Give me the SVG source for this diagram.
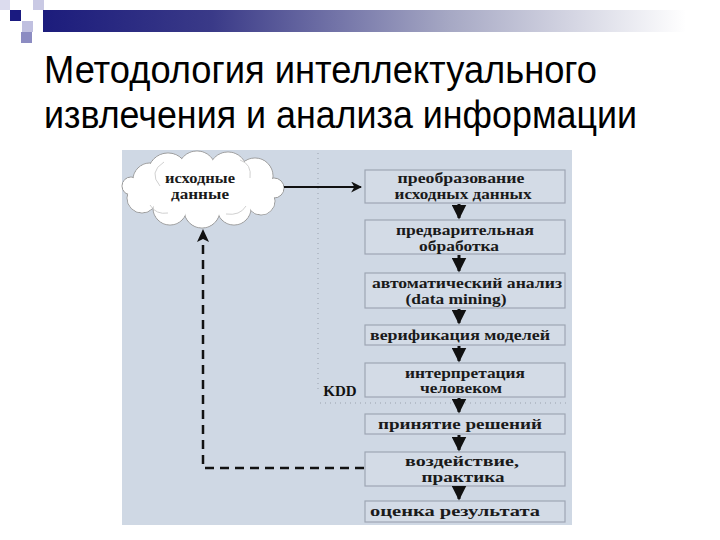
<svg xmlns="http://www.w3.org/2000/svg" width="720" height="540" viewBox="0 0 720 540">
<defs>
<linearGradient id="bar" x1="0" y1="0" x2="1" y2="0">
<stop offset="0" stop-color="#1c1c7c"/>
<stop offset="0.25" stop-color="#3a3a88"/>
<stop offset="0.6" stop-color="#a6a8c4"/>
<stop offset="0.95" stop-color="#ffffff"/>
</linearGradient>
<marker id="ah" viewBox="0 0 10 10" refX="9" refY="5" markerWidth="5" markerHeight="5" orient="auto" markerUnits="strokeWidth">
<path d="M0,0 L10,5 L0,10 L3,5 Z" fill="#111"/>
</marker>
<marker id="ahd" viewBox="0 0 10 10" refX="9" refY="5" markerWidth="5" markerHeight="5" orient="auto" markerUnits="strokeWidth">
<path d="M0,0 L10,5 L0,10 Z" fill="#111"/>
</marker>
</defs>
<style>
.title{font-family:"Liberation Sans",Arial,sans-serif;font-size:38px;fill:#000}
.box{fill:#d3dbe6;stroke:#9ea6b4;stroke-width:1.2}
.lbl{font-family:"Liberation Serif","Times New Roman",serif;font-weight:bold;font-size:15px;fill:#1a1a1a;text-anchor:middle}
.step{stroke:#111;stroke-width:3;fill:none;marker-end:url(#ahd)}
.dot{stroke:#9aa2ae;stroke-width:1;stroke-dasharray:1 4;fill:none}
.cl{fill:#fff;stroke:#9a9a9a;stroke-width:1}
.cf{fill:#fff}
</style>
<rect width="720" height="540" fill="#fff"/>
<g id="deco">
<rect x="43" y="10" width="677" height="22" fill="url(#bar)"/>
<rect x="0" y="0" width="10" height="10" fill="#dcdcee"/>
<rect x="10" y="10" width="11" height="11" fill="#1a1a80"/>
<rect x="33" y="0" width="11" height="10" fill="#c9c9e4"/>
<rect x="22" y="21" width="11" height="11" fill="#c0c0e0"/>
<rect x="21" y="32" width="11" height="11" fill="#8c8cc2"/>
</g>
<g id="title">
<text class="title" x="44" y="83" textLength="553" lengthAdjust="spacingAndGlyphs">Методология интеллектуального</text>
<text class="title" x="44" y="128" textLength="593" lengthAdjust="spacingAndGlyphs">извлечения и анализа информации</text>
</g>
<rect id="panel" x="122" y="150" width="450" height="375" fill="#cfd8e4"/>
<g id="kdd">
<path class="dot" d="M318 153 V392"/>
<path class="dot" d="M320 403 H567"/>
<text x="340" y="396" font-family="Liberation Serif,serif" font-weight="bold" font-size="15" fill="#111" text-anchor="middle">KDD</text>
</g>
<g id="cloud">
<g>
<circle class="cl" cx="131" cy="186" r="9"/>
<circle class="cl" cx="142" cy="198" r="15"/>
<circle class="cl" cx="150" cy="180" r="17"/>
<circle class="cl" cx="168" cy="173" r="20"/>
<circle class="cl" cx="197" cy="170" r="19"/>
<circle class="cl" cx="228" cy="171" r="19"/>
<circle class="cl" cx="255" cy="176" r="18"/>
<circle class="cl" cx="274" cy="188" r="10"/>
<circle class="cl" cx="261" cy="201" r="14"/>
<circle class="cl" cx="234" cy="208" r="17"/>
<circle class="cl" cx="202" cy="210" r="18"/>
<circle class="cl" cx="170" cy="208" r="17"/>
</g>
<g>
<circle class="cf" cx="131" cy="186" r="8.3"/>
<circle class="cf" cx="142" cy="198" r="14.3"/>
<circle class="cf" cx="150" cy="180" r="16.3"/>
<circle class="cf" cx="168" cy="173" r="19.3"/>
<circle class="cf" cx="197" cy="170" r="18.3"/>
<circle class="cf" cx="228" cy="171" r="18.3"/>
<circle class="cf" cx="255" cy="176" r="17.3"/>
<circle class="cf" cx="274" cy="188" r="9.3"/>
<circle class="cf" cx="261" cy="201" r="13.3"/>
<circle class="cf" cx="234" cy="208" r="16.3"/>
<circle class="cf" cx="202" cy="210" r="17.3"/>
<circle class="cf" cx="170" cy="208" r="16.3"/>
<ellipse class="cf" cx="203" cy="190" rx="62" ry="24"/>
</g>
<path d="M160 186 q-12 -14 4 -24 M240 160 q12 4 10 18 M150 205 q6 10 18 8 M246 206 q-6 10 -20 8" fill="none" stroke="#c4c4c4" stroke-width="0.8"/>
<text class="lbl" x="200" y="183" textLength="70" lengthAdjust="spacingAndGlyphs">исходные</text>
<text class="lbl" x="200" y="199" textLength="58" lengthAdjust="spacingAndGlyphs">данные</text>
</g>
<g id="b1"><rect class="box" x="365" y="170" width="200" height="33"/>
<text class="lbl" x="461" y="183" textLength="127" lengthAdjust="spacingAndGlyphs">преобразование</text>
<text class="lbl" x="463" y="199" textLength="137" lengthAdjust="spacingAndGlyphs">исходных данных</text></g>
<g id="b2"><rect class="box" x="365" y="220" width="200" height="34"/>
<text class="lbl" x="465" y="235" textLength="138" lengthAdjust="spacingAndGlyphs">предварительная</text>
<text class="lbl" x="459" y="251" textLength="80" lengthAdjust="spacingAndGlyphs">обработка</text></g>
<g id="b3"><rect class="box" x="365" y="273" width="200" height="35"/>
<text class="lbl" x="467" y="288" textLength="190" lengthAdjust="spacingAndGlyphs">автоматический анализ</text>
<text class="lbl" x="456" y="304" textLength="101" lengthAdjust="spacingAndGlyphs">(data mining)</text></g>
<g id="b4"><rect class="box" x="365" y="325" width="200" height="20"/>
<text class="lbl" x="460" y="340" textLength="180" lengthAdjust="spacingAndGlyphs">верификация моделей</text></g>
<g id="b5"><rect class="box" x="365" y="363" width="200" height="34"/>
<text class="lbl" x="465" y="378" textLength="120" lengthAdjust="spacingAndGlyphs">интерпретация</text>
<text class="lbl" x="461" y="393" textLength="82" lengthAdjust="spacingAndGlyphs">человеком</text></g>
<g id="b6"><rect class="box" x="365" y="414" width="200" height="20"/>
<text class="lbl" x="460" y="429" textLength="164" lengthAdjust="spacingAndGlyphs">принятие решений</text></g>
<g id="b7"><rect class="box" x="365" y="452" width="200" height="34"/>
<text class="lbl" x="462" y="466" textLength="114" lengthAdjust="spacingAndGlyphs">воздействие,</text>
<text class="lbl" x="463" y="482" textLength="83" lengthAdjust="spacingAndGlyphs">практика</text></g>
<g id="b8"><rect class="box" x="365" y="501" width="200" height="21"/>
<text class="lbl" x="455" y="516" textLength="170" lengthAdjust="spacingAndGlyphs">оценка результата</text></g>
<g id="connectors">
<path d="M284 187 H361" stroke="#111" stroke-width="2.2" fill="none" marker-end="url(#ah)"/>
<path class="step" d="M459 204 V218"/>
<path class="step" d="M459 255 V271"/>
<path class="step" d="M459 309 V323"/>
<path class="step" d="M459 346 V361"/>
<path class="step" d="M459 398 V412"/>
<path class="step" d="M459 435 V450"/>
<path class="step" d="M459 487 V499"/>
<path d="M364 468 H203 V240" stroke="#111" stroke-width="2.5" stroke-dasharray="9 6" fill="none"/>
<path d="M203 229 L197 242 L203 239 L209 242 Z" fill="#111"/>
</g>
</svg>
